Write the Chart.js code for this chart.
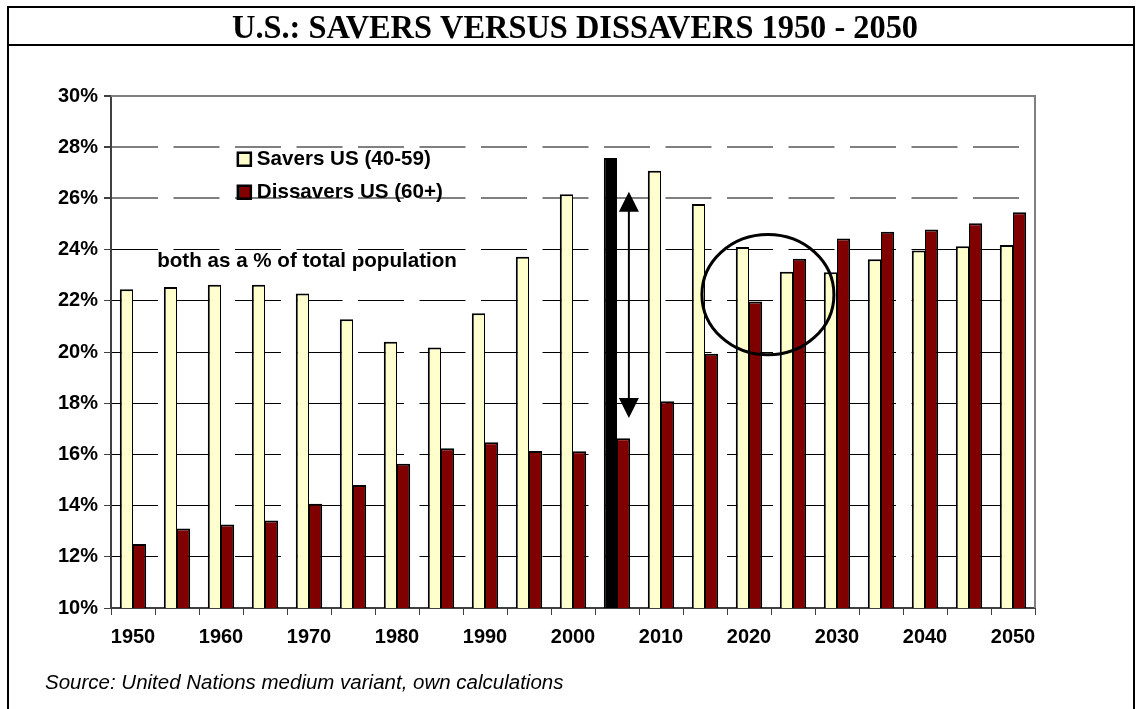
<!DOCTYPE html>
<html>
<head>
<meta charset="utf-8">
<script src="https://cdn.jsdelivr.net/npm/chart.js@4.4.0/dist/chart.umd.min.js"></script>
<style>
  html, body { margin: 0; padding: 0; background: #fff; }
</style>
</head>
<body>
<canvas id="grafico-ahorro" width="1136" height="709"></canvas>
<script>
'use strict';

// Años (cada 5), solo se rotulan las décadas
const anios = ['1950', '1955', '1960', '1965', '1970', '1975', '1980', '1985', '1990', '1995', '2000',
    '2005', '2010', '2015', '2020', '2025', '2030', '2035', '2040', '2045', '2050'];

// % de la población total
const ahorradores = [22.45, 22.54, 22.63, 22.63, 22.29, 21.28, 20.40, 20.18, 21.51, 23.72, 26.16,
    27.58, 27.08, 25.78, 24.10, 23.13, 23.12, 23.62, 23.96, 24.13, 24.18];
const desahorradores = [12.50, 13.11, 13.26, 13.42, 14.07, 14.80, 15.63, 16.24, 16.47, 16.13, 16.12,
    16.63, 18.08, 19.93, 21.97, 23.64, 24.43, 24.70, 24.79, 25.03, 25.46];

const etiquetasSeries = ['Savers US (40-59)', 'Dissavers US (60+)'];
const anioSeparador = '2005'; // barra negra que separa pasado y proyección

// Anotaciones en unidades de datos (índice de categoría, valor en %)
const flecha = { indice: 11.27, desde: 26.26, hasta: 17.42 };
const circulo = { indice: 14.43, valor: 22.24, radioCategorias: 1.5, radioValor: 2.35 };
const nota = { texto: 'both as a % of total population', indice: 0.55, valor: 23.55 };
const leyenda = { indice: 2.36, valor: 27.55, paso: 1.29 };

const titulo = 'U.S.: SAVERS VERSUS DISSAVERS 1950 - 2050';
const fuente = 'Source: United Nations medium variant, own calculations';

const CREMA = '#FFFFCC';
const GRANATE = '#800000';
const EJE = '#404040';

/**
 * Marco, título, leyenda y anotaciones dibujados sobre el gráfico.
 */
const decoracion = {
    id: 'decoracion',
    afterDraw(chart) {
        const { ctx, chartArea, scales: { x, y } } = chart;
        ctx.save();

        // borde superior y derecho del área de trazado
        ctx.strokeStyle = '#808080';
        ctx.lineWidth = 2;
        ctx.beginPath();
        ctx.moveTo(chartArea.left, chartArea.top);
        ctx.lineTo(chartArea.right, chartArea.top);
        ctx.lineTo(chartArea.right, chartArea.bottom);
        ctx.stroke();

        // recuadro exterior y barra del título
        ctx.strokeStyle = '#000';
        ctx.lineWidth = 2;
        ctx.beginPath();
        ctx.moveTo(8, 709);
        ctx.lineTo(8, 7);
        ctx.lineTo(1134, 7);
        ctx.lineTo(1134, 709);
        ctx.moveTo(8, 45);
        ctx.lineTo(1134, 45);
        ctx.stroke();

        ctx.fillStyle = '#000';
        ctx.font = "bold 33px 'Liberation Serif'";
        ctx.textAlign = 'center';
        ctx.textBaseline = 'alphabetic';
        ctx.fillText(titulo, 575, 37.5, 686);

        ctx.font = "italic 20.5px 'Liberation Sans'";
        ctx.textAlign = 'left';
        ctx.textBaseline = 'middle';
        ctx.fillText(fuente, 45, 683);

        // nota
        ctx.font = "bold 20.6px 'Liberation Sans'";
        ctx.fillText(nota.texto, x.getPixelForValue(nota.indice), y.getPixelForValue(nota.valor));

        // leyenda
        const colores = [CREMA, GRANATE];
        etiquetasSeries.forEach((texto, i) => {
            const lx = x.getPixelForValue(leyenda.indice);
            const ly = y.getPixelForValue(leyenda.valor - i * leyenda.paso);
            ctx.fillStyle = colores[i];
            ctx.fillRect(lx + 1, ly - 6, 13, 13);
            ctx.strokeStyle = '#000';
            ctx.lineWidth = 2.5;
            ctx.strokeRect(lx + 1, ly - 6, 13, 13);
            ctx.fillStyle = '#000';
            ctx.fillText(texto, lx + 20, ly + 1);
        });

        // flecha doble
        const fx = x.getPixelForValue(flecha.indice);
        const fy1 = y.getPixelForValue(flecha.desde);
        const fy2 = y.getPixelForValue(flecha.hasta);
        ctx.strokeStyle = '#000';
        ctx.lineWidth = 2;
        ctx.beginPath();
        ctx.moveTo(fx, fy1 + 10);
        ctx.lineTo(fx, fy2 - 10);
        ctx.stroke();
        ctx.beginPath();
        ctx.moveTo(fx, fy1);
        ctx.lineTo(fx - 10, fy1 + 20);
        ctx.lineTo(fx + 10, fy1 + 20);
        ctx.closePath();
        ctx.moveTo(fx, fy2);
        ctx.lineTo(fx - 10, fy2 - 20);
        ctx.lineTo(fx + 10, fy2 - 20);
        ctx.closePath();
        ctx.fill();

        // círculo sobre 2020-2025
        const cx = x.getPixelForValue(circulo.indice);
        const cy = y.getPixelForValue(circulo.valor);
        const rx = x.getPixelForValue(circulo.indice + circulo.radioCategorias) - cx;
        const ry = y.getPixelForValue(circulo.valor - circulo.radioValor) - cy;
        ctx.lineWidth = 3;
        ctx.beginPath();
        ctx.ellipse(cx, cy, rx, ry, 0, 0, Math.PI * 2);
        ctx.stroke();

        ctx.restore();
    }
};

const fuenteEje = { family: 'Liberation Sans', size: 20, weight: 'bold' };

const ctx = document.getElementById('grafico-ahorro').getContext('2d');
new Chart(ctx, {
    type: 'bar',
    data: {
        labels: anios,
        datasets: [
            {
                label: etiquetasSeries[0],
                data: ahorradores,
                backgroundColor: anios.map(a => a === anioSeparador ? '#000000' : CREMA),
                borderColor: '#000',
                borderWidth: { top: 2, left: 2, right: 1, bottom: 0 },
                categoryPercentage: 0.6,
                barPercentage: 1.0
            },
            {
                label: etiquetasSeries[1],
                data: desahorradores,
                backgroundColor: GRANATE,
                borderColor: '#000',
                borderWidth: { top: 2, left: 1, right: 2, bottom: 0 },
                categoryPercentage: 0.6,
                barPercentage: 1.0
            }
        ]
    },
    options: {
        responsive: false,
        devicePixelRatio: 1,
        animation: false,
        layout: { padding: { left: 0, right: 101, top: 96, bottom: 0 } },
        plugins: {
            legend: { display: false },
            tooltip: { enabled: false }
        },
        scales: {
            x: {
                grid: { offset: true, drawOnChartArea: false, tickLength: 7, tickColor: EJE },
                border: { color: EJE, width: 2 },
                ticks: {
                    autoSkip: false,
                    maxRotation: 0,
                    color: '#000',
                    font: fuenteEje,
                    padding: 10,
                    callback: (v, i) => (i % 2 === 0 ? anios[i] : '')
                },
                afterFit: escala => { escala.height = 101; }
            },
            y: {
                min: 10,
                max: 30,
                grid: {
                    color: c => {
                        const v = c.tick ? c.tick.value : 0;
                        if (v === 10 || v === 30) return 'rgba(0,0,0,0)';
                        return v >= 26 ? '#808080' : '#000';
                    },
                    lineWidth: c => (c.tick && c.tick.value >= 26 ? 2 : 1),
                    tickLength: 7,
                    tickColor: EJE
                },
                border: { color: EJE, width: 2, dash: [46, 15.5] },
                ticks: {
                    stepSize: 2,
                    color: '#000',
                    font: fuenteEje,
                    padding: 6,
                    callback: v => v + '%'
                },
                afterFit: escala => { escala.width = 111; }
            }
        }
    },
    plugins: [decoracion]
});
</script>
</body>
</html>
